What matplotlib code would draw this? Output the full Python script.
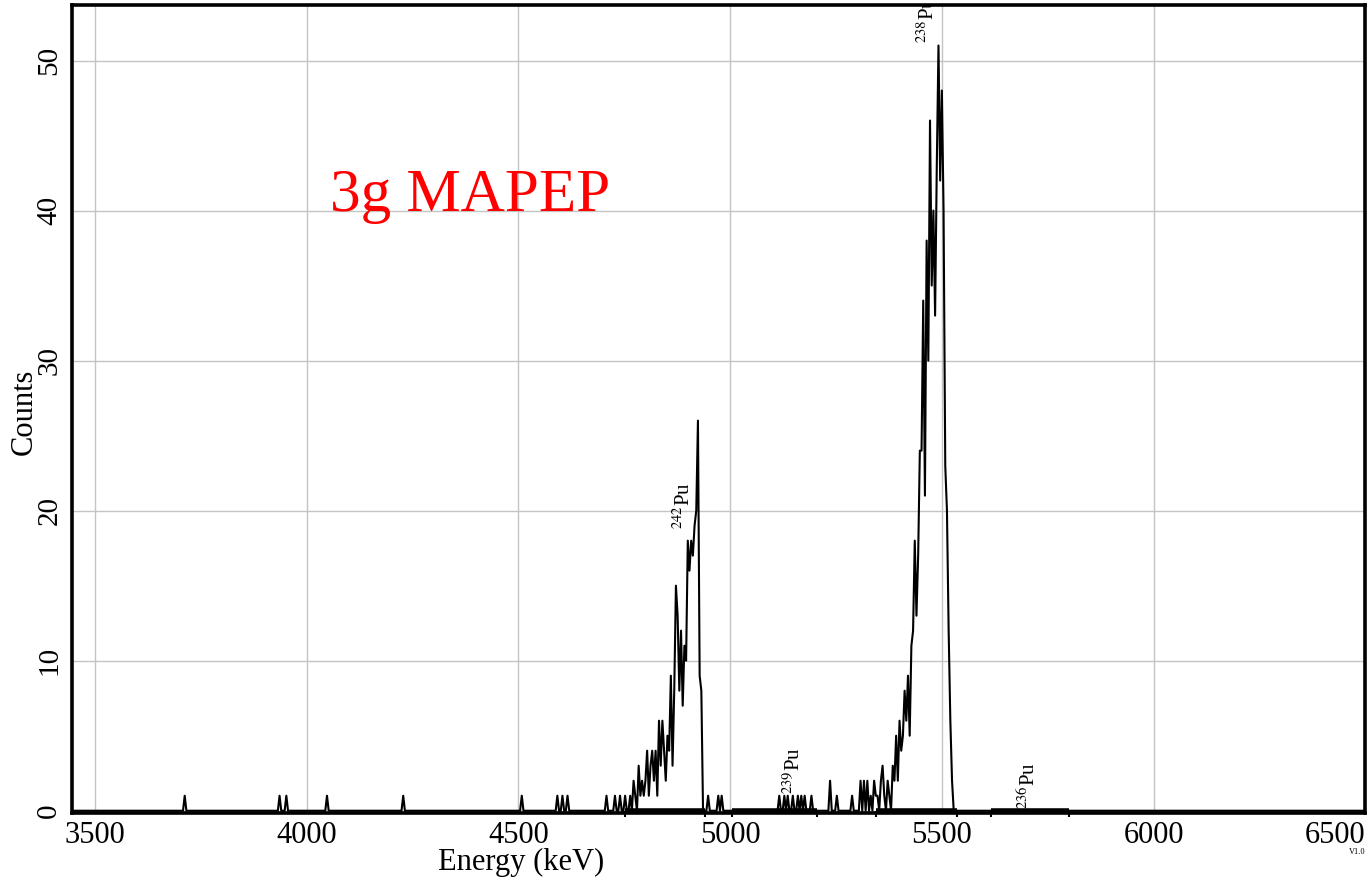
import numpy as np
import matplotlib
matplotlib.use("Agg")
from matplotlib import pyplot as plt

plt.rcParams['font.family'] = ['Liberation Serif', 'DejaVu Serif']
plt.rcParams['mathtext.fontset'] = 'stix'

# channel grid (keV), 4 keV per channel
chan_start = 3440
chan_step = 4
chan_stop = 6504

# isolated single counts in the low / middle part of the spectrum
single_energy = [3712, 3936, 3952, 4048, 4228, 4508, 4592, 4604, 4616, 4708,
                 4728, 4740, 4752, 4948, 4972, 4980,
                 5116, 5128, 5136, 5148, 5160, 5168, 5176, 5192,
                 5236, 5252, 5288, 5308, 5316]
single_counts = [1, 1, 1, 1, 1, 1, 1, 1, 1, 1,
                 1, 1, 1, 1, 1, 1,
                 1, 1, 1, 1, 1, 1, 1, 1,
                 2, 1, 1, 2, 2]

# 242Pu peak, channels from 4760 keV
pu242_start = 4760
pu242_counts = [0, 1, 0, 2, 1, 0, 3, 1, 2, 1,
                2, 4, 1, 3, 4, 2, 4, 1, 6, 3,
                6, 4, 2, 5, 4, 9, 3, 8, 15, 13,
                8, 12, 7, 11, 10, 18, 16, 18, 17, 19,
                20, 26, 9, 8, 0]

# 238Pu peak, channels from 5320 keV
pu238_start = 5320
pu238_counts = [0, 2, 0, 1, 0, 2, 1, 1, 0, 2,
                3, 1, 0, 2, 1, 0, 3, 2, 5, 2,
                6, 4, 5, 8, 6, 9, 5, 11, 12, 18,
                13, 17, 24, 24, 34, 21, 38, 30, 46, 35,
                40, 33, 43, 51, 42, 48, 40, 23, 20, 12,
                6, 2, 0]

# regions of interest drawn on the baseline
roi_start = [4752, 5004, 5344, 5616]
roi_end = [4940, 5204, 5536, 5800]

# peak labels: (isotope, energy, counts)
label_mass = ['242', '238', '239', '236']
label_x = [4891, 5467, 5151, 5705]
label_y = [18.8, 51.2, 1.1, 0.1]

energy = np.arange(chan_start, chan_stop, chan_step)
counts = np.zeros(len(energy))
for e, c in zip(single_energy, single_counts):
    counts[(e - chan_start) // chan_step] = c
for i, c in enumerate(pu242_counts):
    counts[(pu242_start - chan_start) // chan_step + i] = c
for i, c in enumerate(pu238_counts):
    counts[(pu238_start - chan_start) // chan_step + i] = c

fig = plt.figure(figsize=(13.7, 8.77), dpi=100)
ax = fig.add_axes([0.0526, 0.073, 0.944, 0.9213])

ax.plot(energy, counts, color='black', lw=1.5, zorder=3)

# ROI bars on baseline
ax.hlines([0] * len(roi_start), roi_start, roi_end, color='black', lw=4, zorder=4)
for a, b in zip(roi_start, roi_end):
    ax.vlines([a, b], -0.45, 0, color='black', lw=1.5, clip_on=False, zorder=4)

for m, x, y in zip(label_mass, label_x, label_y):
    t = ax.text(x, y, '$^{%s}$Pu' % m, rotation=90, ha='center', va='bottom',
                fontsize=15, zorder=5)
    t.set_clip_on(True)

ax.text(4054, 40, '3g MAPEP', color='red', fontsize=44, ha='left', va='baseline')

ax.set_xlim(3446, 6500)
ax.set_ylim(-0.15, 53.7)
ax.set_xticks([3500, 4000, 4500, 5000, 5500, 6000, 6500])
ax.set_yticks([0, 10, 20, 30, 40, 50])
ax.grid(True, color='#c4c4c4', lw=1)
ax.set_axisbelow(True)

ax.tick_params(axis='x', length=0, pad=6, labelsize=22)
ax.tick_params(axis='y', length=0, pad=7, labelsize=21)
for lab in ax.get_yticklabels():
    lab.set_rotation(90)
    lab.set_va('center')
ax.get_xticklabels()[-1].set_ha('right')

for s in ax.spines.values():
    s.set_linewidth(2.6)

ax.set_xlabel('Energy (keV)', fontsize=22)
ax.set_ylabel('Counts', fontsize=22)
ax.xaxis.set_label_coords(0.347, -0.043)
ax.yaxis.set_label_coords(-0.026, 0.496)

fig.text(0.991, 0.026, 'V1.0', fontsize=6, ha='center')

fig.savefig('out.png', dpi=100)
